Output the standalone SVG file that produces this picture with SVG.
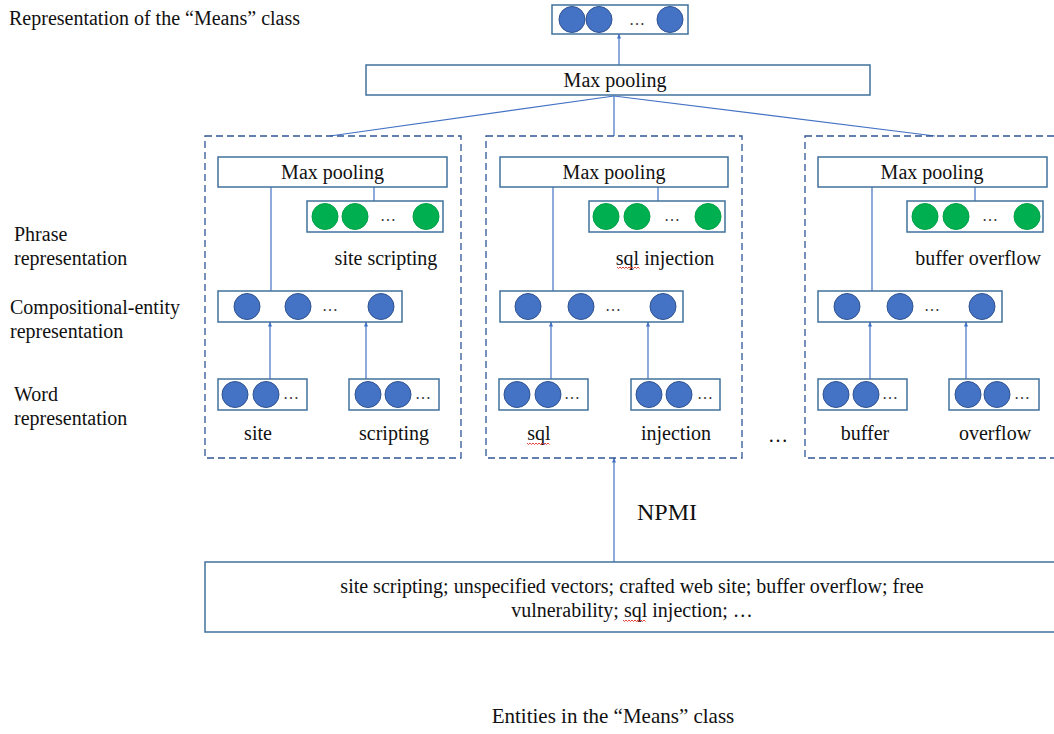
<svg xmlns="http://www.w3.org/2000/svg" width="1054" height="734" viewBox="0 0 1054 734" font-family="Liberation Serif, Times New Roman, serif" font-size="20">
<defs>
<style>
.box{fill:#fff;stroke:#41719C;stroke-width:1.5}
.dash{fill:none;stroke:#2F5597;stroke-width:1.3;stroke-dasharray:7 4}
.ln{stroke:#4472C4;stroke-width:1.2;fill:none}
.b{fill:#4472C4;stroke:#2F528F;stroke-width:1}
.g{fill:#00B050;stroke:#00A046;stroke-width:1}
.t{font-family:'Liberation Serif',serif;font-size:20px;fill:#111}
.m{text-anchor:middle}
.d{font-family:'Liberation Serif',serif;font-size:16px;fill:#333;text-anchor:middle}
.sq{fill:none;stroke:#E0302A;stroke-width:0.9}
</style>
<marker id="ar" markerWidth="5" markerHeight="5" refX="4.5" refY="2.5" orient="auto" markerUnits="userSpaceOnUse">
<path d="M0,0.5 L5,2.5 L0,4.5 z" fill="#4472C4"/>
</marker>
<path id="wave" d="M0,0 l1.5,1.5 l1.5,-1.5 l1.5,1.5 l1.5,-1.5 l1.5,1.5 l1.5,-1.5 l1.5,1.5 l1.5,-1.5 l1.5,1.5 l1.5,-1.5 l1.5,1.5 l1.5,-1.5 l1.5,1.5 l1.5,-1.5 l1.5,1.5" class="sq"/>
</defs>
<rect width="1054" height="734" fill="#fff"/>

<g id="side-labels" class="t">
<text x="9" y="25">Representation of the “Means” class</text>
<text x="14" y="241">Phrase</text>
<text x="14" y="265">representation</text>
<text x="10" y="314">Compositional-entity</text>
<text x="10" y="338">representation</text>
<text x="14" y="401">Word</text>
<text x="14" y="425">representation</text>
</g>

<g id="connectors">
<line class="ln" x1="619" y1="65" x2="619" y2="34" marker-end="url(#ar)"/>
<line class="ln" x1="614" y1="96" x2="330" y2="136"/>
<line class="ln" x1="614" y1="96" x2="614" y2="136"/>
<line class="ln" x1="614" y1="96" x2="935" y2="136"/>
<line class="ln" x1="271" y1="187" x2="271" y2="291"/>
<line class="ln" x1="374" y1="187" x2="374" y2="201"/>
<line class="ln" x1="270" y1="379" x2="270" y2="322" marker-end="url(#ar)"/>
<line class="ln" x1="366" y1="379" x2="366" y2="322" marker-end="url(#ar)"/>
<line class="ln" x1="553" y1="187" x2="553" y2="291"/>
<line class="ln" x1="658" y1="187" x2="658" y2="201"/>
<line class="ln" x1="551" y1="379" x2="551" y2="322" marker-end="url(#ar)"/>
<line class="ln" x1="648" y1="379" x2="648" y2="322" marker-end="url(#ar)"/>
<line class="ln" x1="872" y1="187" x2="872" y2="291"/>
<line class="ln" x1="975" y1="187" x2="975" y2="201"/>
<line class="ln" x1="870" y1="379" x2="870" y2="322" marker-end="url(#ar)"/>
<line class="ln" x1="966" y1="379" x2="966" y2="322" marker-end="url(#ar)"/>
<line class="ln" x1="614" y1="562" x2="614" y2="458" marker-end="url(#ar)"/>
</g>

<g id="means-vector">
<rect class="box" x="552" y="5" width="136" height="29"/>
<circle class="b" cx="572" cy="19.5" r="13"/>
<circle class="b" cx="599" cy="19.5" r="13"/>
<text class="d" x="637" y="25">…</text>
<circle class="b" cx="670" cy="19.5" r="13"/>
</g>

<g id="top-maxpool">
<rect class="box" x="366" y="65" width="504" height="30"/>
<text class="t m" x="615" y="87">Max pooling</text>
</g>

<g id="panel-site-scripting">
<rect class="dash" x="205" y="136" width="256" height="322"/>
<g id="mp-left"><rect class="box" x="218" y="157" width="229" height="30"/><text class="t m" x="332.5" y="179">Max pooling</text></g>
<g id="phrase-left"><rect class="box" x="307" y="201" width="136" height="31"/>
<circle class="g" cx="325" cy="216.5" r="13"/><circle class="g" cx="355" cy="216.5" r="13"/><text class="d" x="388" y="221">…</text><circle class="g" cx="426" cy="216.5" r="13"/>
<text class="t m" x="386" y="265">site scripting</text></g>
<g id="comp-left"><rect class="box" x="218" y="291" width="184" height="31"/>
<circle class="b" cx="247" cy="306.5" r="13"/><circle class="b" cx="298" cy="306.5" r="13"/><text class="d" x="330" y="311">…</text><circle class="b" cx="381" cy="306.5" r="13"/></g>
<g id="word-site"><rect class="box" x="218" y="379" width="89" height="31"/>
<circle class="b" cx="235" cy="394.5" r="13"/><circle class="b" cx="266" cy="394.5" r="13"/><text class="d" x="291" y="399">…</text>
<text class="t m" x="258" y="440">site</text></g>
<g id="word-scripting"><rect class="box" x="349" y="379" width="90" height="31"/>
<circle class="b" cx="368" cy="394.5" r="13"/><circle class="b" cx="398" cy="394.5" r="13"/><text class="d" x="423" y="399">…</text>
<text class="t m" x="394" y="440">scripting</text></g>
</g>

<g id="panel-sql-injection">
<rect class="dash" x="486" y="136" width="256" height="322"/>
<g id="mp-mid"><rect class="box" x="500" y="157" width="228" height="30"/><text class="t m" x="614" y="179">Max pooling</text></g>
<g id="phrase-mid"><rect class="box" x="589" y="201" width="136" height="31"/>
<circle class="g" cx="606" cy="216.5" r="13"/><circle class="g" cx="637" cy="216.5" r="13"/><text class="d" x="672" y="221">…</text><circle class="g" cx="708" cy="216.5" r="13"/>
<text class="t m" x="665" y="265">sql injection</text>
<use href="#wave" x="617" y="267"/></g>
<g id="comp-mid"><rect class="box" x="500" y="291" width="183" height="31"/>
<circle class="b" cx="528" cy="306.5" r="13"/><circle class="b" cx="581" cy="306.5" r="13"/><text class="d" x="613" y="311">…</text><circle class="b" cx="663" cy="306.5" r="13"/></g>
<g id="word-sql"><rect class="box" x="499" y="379" width="89" height="31"/>
<circle class="b" cx="517" cy="394.5" r="13"/><circle class="b" cx="548" cy="394.5" r="13"/><text class="d" x="572" y="399">…</text>
<text class="t m" x="539" y="440">sql</text>
<use href="#wave" x="527" y="443"/></g>
<g id="word-injection"><rect class="box" x="631" y="379" width="89" height="31"/>
<circle class="b" cx="649" cy="394.5" r="13"/><circle class="b" cx="679" cy="394.5" r="13"/><text class="d" x="705" y="399">…</text>
<text class="t m" x="676" y="440">injection</text></g>
</g>

<text id="panel-ellipsis" class="t m" x="778" y="442">…</text>

<g id="panel-buffer-overflow">
<rect class="dash" x="805" y="136" width="262" height="322"/>
<g id="mp-right"><rect class="box" x="818" y="157" width="229" height="30"/><text class="t m" x="932" y="179">Max pooling</text></g>
<g id="phrase-right"><rect class="box" x="907" y="201" width="136" height="31"/>
<circle class="g" cx="925" cy="216.5" r="13"/><circle class="g" cx="956" cy="216.5" r="13"/><text class="d" x="990" y="221">…</text><circle class="g" cx="1027" cy="216.5" r="13"/>
<text class="t m" x="978" y="265">buffer overflow</text></g>
<g id="comp-right"><rect class="box" x="818" y="291" width="184" height="31"/>
<circle class="b" cx="847" cy="306.5" r="13"/><circle class="b" cx="900" cy="306.5" r="13"/><text class="d" x="932" y="311">…</text><circle class="b" cx="982" cy="306.5" r="13"/></g>
<g id="word-buffer"><rect class="box" x="818" y="379" width="89" height="31"/>
<circle class="b" cx="836" cy="394.5" r="13"/><circle class="b" cx="866" cy="394.5" r="13"/><text class="d" x="890" y="399">…</text>
<text class="t m" x="865" y="440">buffer</text></g>
<g id="word-overflow"><rect class="box" x="949" y="379" width="90" height="31"/>
<circle class="b" cx="968" cy="394.5" r="13"/><circle class="b" cx="997" cy="394.5" r="13"/><text class="d" x="1022" y="399">…</text>
<text class="t m" x="995" y="440">overflow</text></g>
</g>

<text id="npmi-label" x="637" y="520" font-size="24" fill="#111">NPMI</text>

<g id="entities-box">
<rect class="box" x="205" y="562" width="862" height="70"/>
<text class="t m" x="632" y="593">site scripting; unspecified vectors; crafted web site; buffer overflow; free</text>
<text class="t m" x="632" y="617">vulnerability; sql injection; …</text>
<use href="#wave" x="623" y="620"/>
</g>

<text id="entities-label" class="t m" x="613" y="723" style="font-size:21px">Entities in the “Means” class</text>
</svg>
